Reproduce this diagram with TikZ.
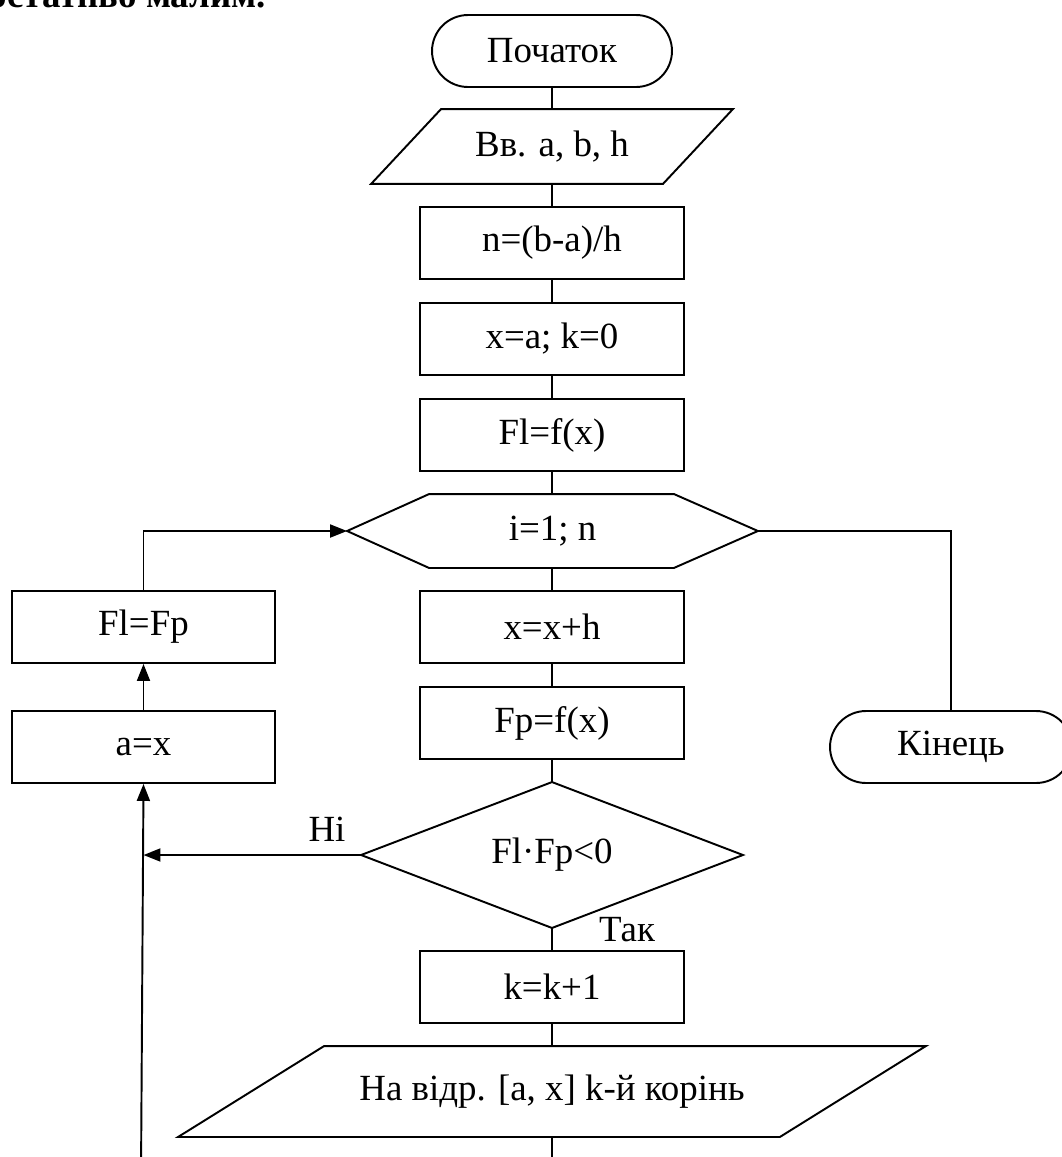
\documentclass[tikz,border=0pt]{standalone}
\usepackage{fontspec}
\setmainfont{Liberation Serif}
\usetikzlibrary{arrows.meta,shapes.misc,calc}

\begin{document}
\begin{tikzpicture}[x=0.02cm,y=-0.02cm,
  line width=1.1pt,
  every node/.style={font=\fontsize{21}{25}\selectfont, inner sep=0pt},
  term/.style={rounded rectangle, draw, minimum width=4.8cm, minimum height=1.44cm},
  proc/.style={rectangle, draw, minimum width=5.28cm, minimum height=1.44cm},
  frame/.style={rectangle, minimum width=#1, minimum height=1.44cm},
  arr/.style={-{Triangle[length=0.34cm,width=0.26cm]}}
]
\useasboundingbox (0,0) rectangle (1062,1157);

% tail of the preceding sentence
\node[anchor=base east, font=\bfseries\fontsize{21}{25}\selectfont] (tail) at (267,7) {достатньо малим.};

% main column
\node[term] (start) at (552,51) {Початок};

\node[frame=5.8cm, minimum height=1.46cm] (in) at (552,146.5) {Вв. a, b, h};
\draw ($(in.north west)+(35,0)$) -- ($(in.north east)+(35,0)$) --
      ($(in.south east)+(-35,0)$) -- ($(in.south west)+(-35,0)$) -- cycle;

\node[proc] (n)  at (552,243) {n=(b-a)/h};
\node[proc] (xa) at (552,339) {x=a; k=0};
\node[proc] (fl) at (552,435) {Fl=f(x)};

\node[frame=8.18cm] (loop) at (552.5,531) {i=1; n};
\draw (loop.west) -- ($(loop.north west)+(82,0)$) -- ($(loop.north east)+(-84,0)$) --
      (loop.east) -- ($(loop.south east)+(-84,0)$) -- ($(loop.south west)+(82,0)$) -- cycle;

\node[proc] (xh) at (552,627) {x=x+h};
\node[proc] (fp) at (552,723) {Fp=f(x)};

\node[frame=7.6cm, minimum height=2.88cm] (cond) at (552,855) {Fl·Fp<0};
\draw (cond.north) -- (cond.east) -- (cond.south) -- (cond.west) -- cycle;

\node[proc] (kk) at (552,987) {k=k+1};

\node[frame=12cm, minimum height=1.78cm] (out) at (552,1091.5) {На відр. [a, x] k-й корінь};
\draw ($(out.north west)+(73,0)$) -- ($(out.north east)+(73,0)$) --
      ($(out.south east)+(-73,0)$) -- ($(out.south west)+(-73,0)$) -- cycle;

% left branch
\node[proc, minimum width=5.26cm] (flfp) at (143.5,627) {Fl=Fp};
\node[proc, minimum width=5.26cm] (ax)   at (143.5,747) {a=x};

% exit
\node[term, minimum width=4.84cm] (end) at (951,747) {Кінець};

% branch labels
\node (no)  at (327,829) {Ні};
\node (yes) at (627,930) {Так};

% connectors
\coordinate (down) at (552,1175);
\coordinate (upfoot) at (141,1175);

\draw (start.south) -- (in.north);
\draw (in.south) -- (n.north);
\draw (n.south) -- (xa.north);
\draw (xa.south) -- (fl.north);
\draw (fl.south) -- (loop.north -| fl.south);
\draw (loop.south -| xh.north) -- (xh.north);
\draw (xh.south) -- (fp.north);
\draw (fp.south) -- (cond.north);
\draw (cond.south) -- (kk.north);
\draw (kk.south) -- (out.south |- out.north);
\draw (out.south) -- (down);

\draw[arr] (upfoot) -- (ax.south);
\draw[arr] (cond.west) -- (cond.west -| ax.south);
\draw[arr] (ax.north) -- (flfp.south);
\draw[arr] (flfp.north) |- (loop.west);
\draw (loop.east) -| (end.north);
\end{tikzpicture}
\end{document}
